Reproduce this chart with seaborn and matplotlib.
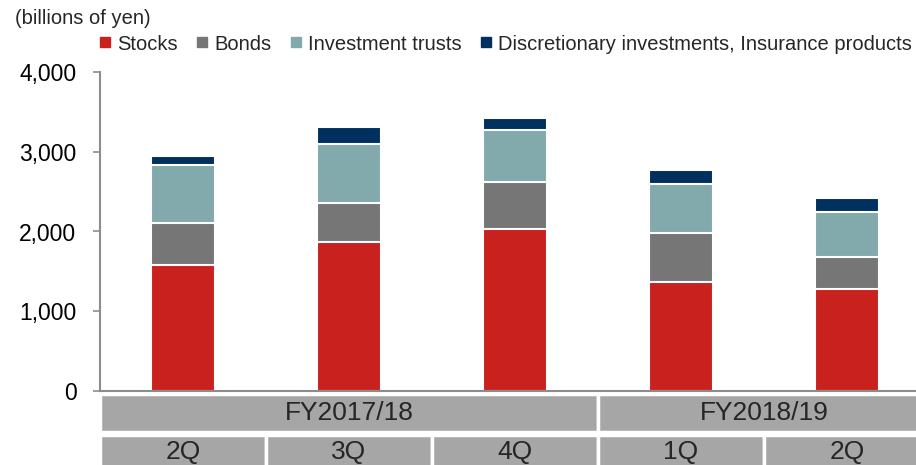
import matplotlib
matplotlib.use('Agg')
import matplotlib.pyplot as plt
import matplotlib.transforms as mtransforms
from matplotlib.patches import Rectangle
from matplotlib.lines import Line2D
import seaborn as sns
import numpy as np

# data (billions of yen)
quarters = ['2Q', '3Q', '4Q', '1Q', '2Q']
fiscal_years = ['FY2017/18', 'FY2018/19']
fy_span = [3, 2]
series = ['Stocks', 'Bonds', 'Investment trusts',
          'Discretionary investments, Insurance products']
stocks = [1580, 1870, 2030, 1370, 1280]
bonds = [530, 490, 590, 610, 400]
trusts = [730, 740, 650, 610, 570]
discretionary = [110, 210, 150, 175, 175]
colors = ['#C9211E', '#767676', '#82A9AC', '#00305F']

sns.set_theme(style='white')
plt.rcParams['font.family'] = ['Liberation Sans', 'DejaVu Sans']

fig = plt.figure(figsize=(9.16, 4.65), dpi=100)
ax = fig.add_axes([100 / 916, 74 / 465, 830 / 916, 319 / 465])

ids = [f'q{i}' for i in range(len(quarters))]
layers = np.cumsum([stocks, bonds, trusts, discretionary], axis=0)
# draw cumulative totals from top down so the white edges separate segments
for cum, c in zip(layers[::-1], colors[::-1]):
    sns.barplot(x=ids, y=cum, color=c, saturation=1, width=0.38,
                edgecolor='white', linewidth=1.5, ax=ax)

ax.set_xlim(-0.5, 4.5)
ax.set_ylim(0, 4000)
ax.set_yticks(range(0, 4001, 1000))
ax.set_yticklabels([f'{v:,}' for v in range(0, 4001, 1000)], fontsize=16.5)
ax.set_xticks([])
ax.set_xlabel('')
ax.set_ylabel('')
for s in ['top', 'right']:
    ax.spines[s].set_visible(False)
for s in ['left', 'bottom']:
    ax.spines[s].set_color('#8C8C8C')
    ax.spines[s].set_linewidth(1.5)
ax.tick_params(axis='y', left=True, length=5, width=1.2, color='#8C8C8C',
               pad=12, labelcolor='black')

# category table under the axis
tr = mtransforms.blended_transform_factory(ax.transData, ax.transAxes)
row1 = (-0.01, -0.128)
row2 = (-0.138, -0.25)
gray = '#A6A6A6'
start = -0.5
for fy, n in zip(fiscal_years, fy_span):
    ax.add_patch(Rectangle((start, row1[1]), n, row1[0] - row1[1], transform=tr,
                           facecolor=gray, edgecolor='white', linewidth=2.5,
                           clip_on=False))
    ax.text(start + n / 2, (row1[0] + row1[1]) / 2, fy, transform=tr,
            ha='center', va='center', fontsize=19, clip_on=False)
    start += n
for i, q in enumerate(quarters):
    ax.add_patch(Rectangle((i - 0.5, row2[1]), 1, row2[0] - row2[1], transform=tr,
                           facecolor=gray, edgecolor='white', linewidth=2.5,
                           clip_on=False))
    ax.text(i, -0.19, q, transform=tr,
            ha='center', va='center', fontsize=19, clip_on=False)

handles = [Line2D([], [], marker='s', linestyle='', color=c, markersize=7)
           for c in colors]
fig.legend(handles, series, loc='center', bbox_to_anchor=(505 / 916, 1 - 44 / 465),
           ncol=4, frameon=False, fontsize=14.5, handletextpad=0.25,
           columnspacing=0.85, handlelength=0.7)
fig.text(15 / 916, 1 - 19 / 465, '(billions of yen)', fontsize=14.5,
         ha='left', va='center')

fig.savefig('out.png', dpi=100)
